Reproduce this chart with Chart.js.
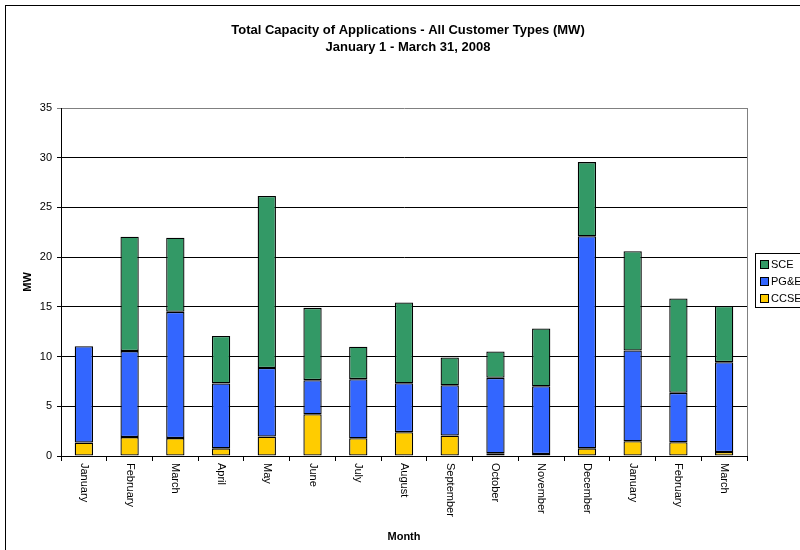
<!DOCTYPE html>
<html>
<head>
<meta charset="utf-8">
<script src="https://cdn.jsdelivr.net/npm/chart.js@4.4.1/dist/chart.umd.min.js"></script>
<style>
  html, body { margin: 0; padding: 0; background: #fff; }
  canvas { display: block; }
</style>
</head>
<body>
<canvas id="chart" width="800" height="550"></canvas>
<script>
// Month categories (Jan 2007 .. Mar 2008)
const months = ['January', 'February', 'March', 'April', 'May', 'June', 'July',
  'August', 'September', 'October', 'November', 'December', 'January', 'February', 'March'];

// Capacity of applications per utility, MW
const ccse = [1.35, 1.9, 1.8, 0.77, 1.95, 4.2, 1.78, 2.4, 2.05, 0.27, 0.2, 0.77, 1.48, 1.38, 0.4];
const pge  = [9.7, 8.65, 12.7, 6.53, 6.9, 3.43, 5.95, 4.92, 5.07, 7.59, 6.82, 21.33, 9.13, 4.97, 9.04];
const sce  = [null, 11.5, 7.45, 4.77, 17.3, 7.27, 3.27, 8.13, 2.79, 2.65, 5.81, 7.46, 9.98, 9.5, 5.64];

const seriesNames = ['CCSE', 'PG&E', 'SCE'];
const titleLines = ['Total Capacity of Applications - All Customer Types (MW)', 'January 1 - March 31, 2008'];
const yMax = 35;
const yStep = 5;

const FONT = '"Liberation Sans", Arial, Helvetica, sans-serif';

// Outer frame, title, plot-area border, rotated month labels and legend
const decorations = {
  id: 'decorations',
  beforeDraw(chart) {
    const ctx = chart.ctx;
    ctx.save();
    ctx.fillStyle = '#fff';
    ctx.fillRect(0, 0, chart.width, chart.height);
    ctx.strokeStyle = '#000';
    ctx.lineWidth = 1;
    ctx.strokeRect(5.5, 5.5, 900, 700);
    ctx.restore();
  },
  afterDraw(chart) {
    const ctx = chart.ctx;
    const area = chart.chartArea;
    const xs = chart.scales.x;
    ctx.save();

    // title
    ctx.fillStyle = '#000';
    ctx.font = 'bold 13px ' + FONT;
    ctx.textAlign = 'center';
    ctx.textBaseline = 'middle';
    titleLines.forEach((t, i) => ctx.fillText(t, 408, 30 + i * 17));

    // right border of plot area
    ctx.strokeStyle = '#808080';
    ctx.lineWidth = 1;
    ctx.beginPath();
    ctx.moveTo(Math.round(area.right) + 0.5, area.top);
    ctx.lineTo(Math.round(area.right) + 0.5, area.bottom);
    ctx.stroke();

    // month labels, reading top to bottom
    ctx.font = '11px ' + FONT;
    ctx.fillStyle = '#000';
    ctx.textAlign = 'left';
    ctx.textBaseline = 'middle';
    chart.data.labels.forEach((lab, i) => {
      const x = xs.getPixelForValue(i);
      ctx.save();
      ctx.translate(x, area.bottom + 7);
      ctx.rotate(Math.PI / 2);
      ctx.fillText(lab, 0, 0);
      ctx.restore();
    });

    // legend
    const lx = 755.5, ly = 253.5;
    ctx.strokeStyle = '#000';
    ctx.strokeRect(lx, ly, 80, 54);
    const sets = chart.data.datasets.slice().reverse();
    sets.forEach((ds, i) => {
      const cy = 265 + i * 17;
      ctx.fillStyle = ds.backgroundColor;
      ctx.fillRect(761, cy - 4, 7, 7);
      ctx.strokeStyle = '#000';
      ctx.strokeRect(760.5, cy - 4.5, 8, 8);
      ctx.fillStyle = '#000';
      ctx.font = '11px ' + FONT;
      ctx.textAlign = 'left';
      ctx.fillText(ds.label, 771, cy);
    });
    ctx.restore();
  }
};

new Chart(document.getElementById('chart'), {
  type: 'bar',
  data: {
    labels: months,
    datasets: [
      { label: seriesNames[0], data: ccse, backgroundColor: '#FFCC00' },
      { label: seriesNames[1], data: pge, backgroundColor: '#3366FF' },
      { label: seriesNames[2], data: sce, backgroundColor: '#339966' }
    ]
  },
  options: {
    responsive: false,
    animation: false,
    layout: { padding: { top: 108, right: 53, bottom: 0, left: 0 } },
    datasets: {
      bar: {
        borderColor: '#000',
        borderWidth: 1.3,
        borderSkipped: false,
        inflateAmount: 0,
        categoryPercentage: 1.0,
        barPercentage: 0.4
      }
    },
    plugins: {
      legend: { display: false },
      title: { display: false },
      tooltip: { enabled: false }
    },
    scales: {
      x: {
        stacked: true,
        grid: {
          offset: true,
          drawOnChartArea: false,
          color: '#000',
          tickLength: 5
        },
        border: { color: '#000', width: 1 },
        ticks: { display: false },
        title: {
          display: true,
          text: 'Month',
          color: '#000',
          font: { family: FONT, size: 11, weight: 'bold' },
          padding: { top: 0, bottom: 6 }
        },
        afterFit(scale) { scale.height = 94; }
      },
      y: {
        stacked: true,
        min: 0,
        max: yMax,
        ticks: {
          stepSize: yStep,
          color: '#000',
          font: { family: FONT, size: 11 },
          padding: 5
        },
        grid: {
          color: (c) => (c.tick && c.tick.value === yMax ? '#808080' : '#000'),
          lineWidth: 1,
          tickLength: 4
        },
        border: { color: '#000', width: 1 },
        title: {
          display: true,
          text: 'MW',
          color: '#000',
          font: { family: FONT, size: 11, weight: 'bold' },
          padding: { top: 21, bottom: 0 }
        },
        afterFit(scale) { scale.width = 61; }
      }
    }
  },
  plugins: [decorations]
});
</script>
</body>
</html>
